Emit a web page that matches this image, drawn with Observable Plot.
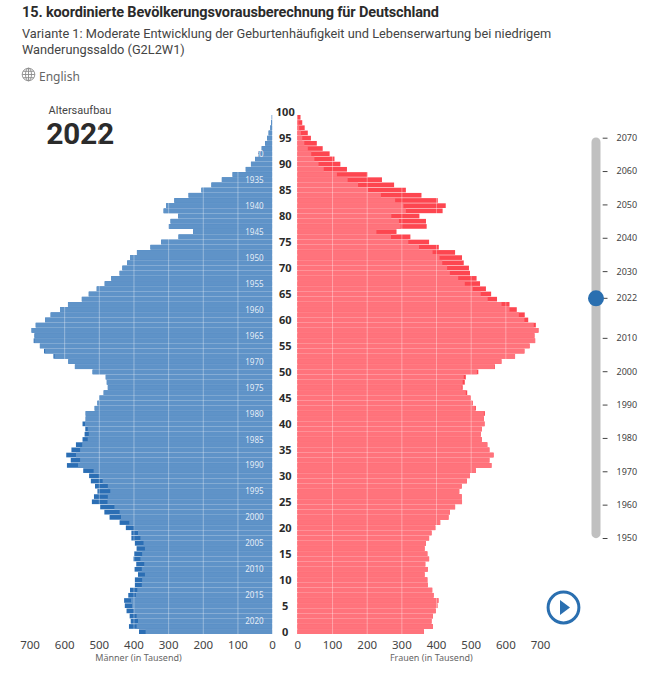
<!DOCTYPE html>
<html lang="de">
<head>
<meta charset="utf-8">
<script src="https://cdn.jsdelivr.net/npm/d3@7"></script>
<script src="https://cdn.jsdelivr.net/npm/@observablehq/plot@0.6"></script>
<style>
html,body{margin:0;padding:0;background:#fff;}
body{position:relative;width:661px;height:680px;overflow:hidden;font-family:"Noto Sans",sans-serif;color:#333;}
.abs{position:absolute;white-space:nowrap;}
svg{display:block;overflow:visible;}
</style>
</head>
<body>
<div class="abs" style="left:22px;top:3px;font-family:Roboto,sans-serif;font-size:14.5px;letter-spacing:-0.13px;font-weight:700;color:#2b2b2b;line-height:20px">15. koordinierte Bevölkerungsvorausberechnung für Deutschland</div>
<div class="abs" style="left:22px;top:26px;font-family:Roboto,sans-serif;font-size:12.78px;color:#444;line-height:15.5px">Variante 1: Moderate Entwicklung der Geburtenhäufigkeit und Lebenserwartung bei niedrigem<br>Wanderungssaldo (G2L2W1)</div>
<svg class="abs" style="left:21px;top:67px" width="15" height="15" viewBox="0 0 15 15" fill="none" stroke="#8a8a8a" stroke-width="0.9"><circle cx="7.5" cy="7.5" r="6.3"/><ellipse cx="7.5" cy="7.5" rx="3" ry="6.3"/><path d="M7.5 1.2v12.6M1.2 7.5h12.6M2.2 4.3h10.6M2.2 10.7h10.6"/></svg>
<div class="abs" style="left:39px;top:68px;font-size:12px;color:#666;line-height:18px">English</div>
<div class="abs" style="left:20px;width:120px;text-align:center;top:104px;font-family:Roboto,sans-serif;font-size:11px;color:#444;line-height:13px">Altersaufbau</div>
<div class="abs" style="left:20px;width:120px;text-align:center;top:119px;font-family:Roboto,sans-serif;font-size:30px;letter-spacing:-0.3px;font-weight:700;color:#2b2b2b;line-height:30px">2022</div>
<div id="pyramid" class="abs" style="left:0;top:0"></div>
<div id="slider" class="abs" style="left:560px;top:120px"></div>
<svg class="abs" style="left:545px;top:589px" width="37" height="37" viewBox="0 0 37 37"><circle cx="18.5" cy="18.5" r="15.4" fill="#fff" stroke="#2a6fb0" stroke-width="3"/><path d="M15 11l10 7.5-10 7.5z" fill="#2a6fb0"/></svg>
<script>
// Ages 0 to 99, population in thousands, year 2022
const males = [
  384,413,408,411,420,425,427,415,410,396,
  396,387,397,392,400,398,391,396,406,406,
  422,440,469,484,496,520,514,504,511,523,
  528,545,592,581,594,579,566,547,541,539,
  547,538,538,512,504,499,486,474,477,480,
  518,569,588,631,658,670,688,686,694,682,
  655,639,612,589,549,529,506,483,464,440,
  432,418,410,390,351,320,270,228,298,293,
  271,313,306,282,241,204,175,145,114,76,
  61,49,40,30,20,14,10,5,3,1
];
const females = [
  365,391,387,391,399,404,407,393,389,376,
  375,367,376,369,380,375,367,371,380,387,
  398,412,436,440,455,475,474,467,474,489,
  498,515,560,554,566,554,548,532,529,532,
  540,538,541,515,506,500,490,477,483,486,
  522,570,589,628,655,670,686,684,696,688,
  666,656,633,612,576,559,544,527,517,498,
  495,480,475,455,408,380,326,286,373,371,
  352,419,428,405,358,313,279,244,202,143,
  124,107,93,73,56,39,30,21,14,9
];
const ageTicks = d3.range(0, 101, 5);
const birthYears = d3.range(1930, 2021, 5);
const valueTicks = [0,100,200,300,400,500,600,700];
const sliderYears = [1950,1960,1970,1980,1990,2000,2010,2022,2030,2040,2050,2060,2070];
const currentYear = 2022;

const gap = 73; // width of the age column, in x units
const rows = males.map((m, age) => ({age, m, f: females[age], both: Math.min(m, females[age])}));
const xTicks = [...valueTicks.map(v => -v), ...valueTicks.map(v => v + gap)];
const tickText = d => d >= gap ? d - gap : -d;

const colors = {mDark:"#2b6eb4", mLight:"#5f93c8", fDark:"#fd4650", fLight:"#ff737c"};
const font = '"Noto Sans",sans-serif';

const pyramid = Plot.plot({
  width: 661, height: 680, marginTop: 0, marginBottom: 0, marginLeft: 0, marginRight: 0,
  style: {fontFamily: font, background: "transparent"},
  x: {domain: [-700, 700 + gap], range: [29.5, 540], axis: null},
  y: {type: "band", domain: d3.range(100, -1, -1), range: [109.8, 634], paddingInner: 0.1, paddingOuter: 0, round: false, axis: null},
  marks: [
    Plot.barX(rows, {y: "age", x1: 0, x2: d => -d.m, fill: colors.mDark}),
    Plot.barX(rows, {y: "age", x1: 0, x2: d => -d.both, fill: colors.mLight}),
    Plot.barX(rows, {y: "age", x1: gap, x2: d => gap + d.f, fill: colors.fDark}),
    Plot.barX(rows, {y: "age", x1: gap, x2: d => gap + d.both, fill: colors.fLight}),
    Plot.ruleX(xTicks.filter(d => d !== 0 && d !== gap), {y1: 99, y2: 0, stroke: "#fff", strokeOpacity: 0.35, strokeWidth: 1}),
    Plot.text(birthYears, {x: -26, y: d => currentYear - d, text: d => String(d), fill: "#fff", fillOpacity: 0.85, fontSize: 8, textAnchor: "end"}),
    Plot.text(ageTicks, {x: gap / 2, y: d => d, text: d => String(d), fill: "#2b2b2b", fontSize: 11, fontWeight: 700}),
    Plot.text(xTicks, {x: d => d, y: 0, dy: 12.8, text: d => String(tickText(d)), fill: "#444", fontSize: 11.5}),
    Plot.text(["Männer (in Tausend)"], {x: -387, y: 0, dy: 25.6, text: d => d, fill: "#666", fontSize: 9}),
    Plot.text(["Frauen (in Tausend)"], {x: gap + 385, y: 0, dy: 25.6, text: d => d, fill: "#666", fontSize: 9})
  ]
});
document.getElementById("pyramid").append(pyramid);

const slider = Plot.plot({
  width: 101, height: 440, marginTop: 0, marginBottom: 0, marginLeft: 0, marginRight: 0,
  style: {fontFamily: font, background: "transparent"},
  x: {domain: [0, 1], range: [35.5, 47.5], axis: null},
  y: {domain: [1950, 2070], range: [418, 17.7], axis: null},
  marks: [
    Plot.ruleX([0], {y1: 1951.3, y2: 2068.7, stroke: "#c0c0c0", strokeWidth: 9, strokeLinecap: "round"}),
    Plot.ruleY(sliderYears, {x1: 0.6, x2: 1, stroke: "#444", strokeWidth: 1}),
    Plot.dot([currentYear], {x: 0, y: d => d, r: 8, fill: "#2a6fb0"}),
    Plot.text(sliderYears, {x: 1, y: d => d, dx: 8.5, text: d => String(d), textAnchor: "start", fill: "#444", fontSize: 9})
  ]
});
document.getElementById("slider").append(slider);
</script>
</body>
</html>
